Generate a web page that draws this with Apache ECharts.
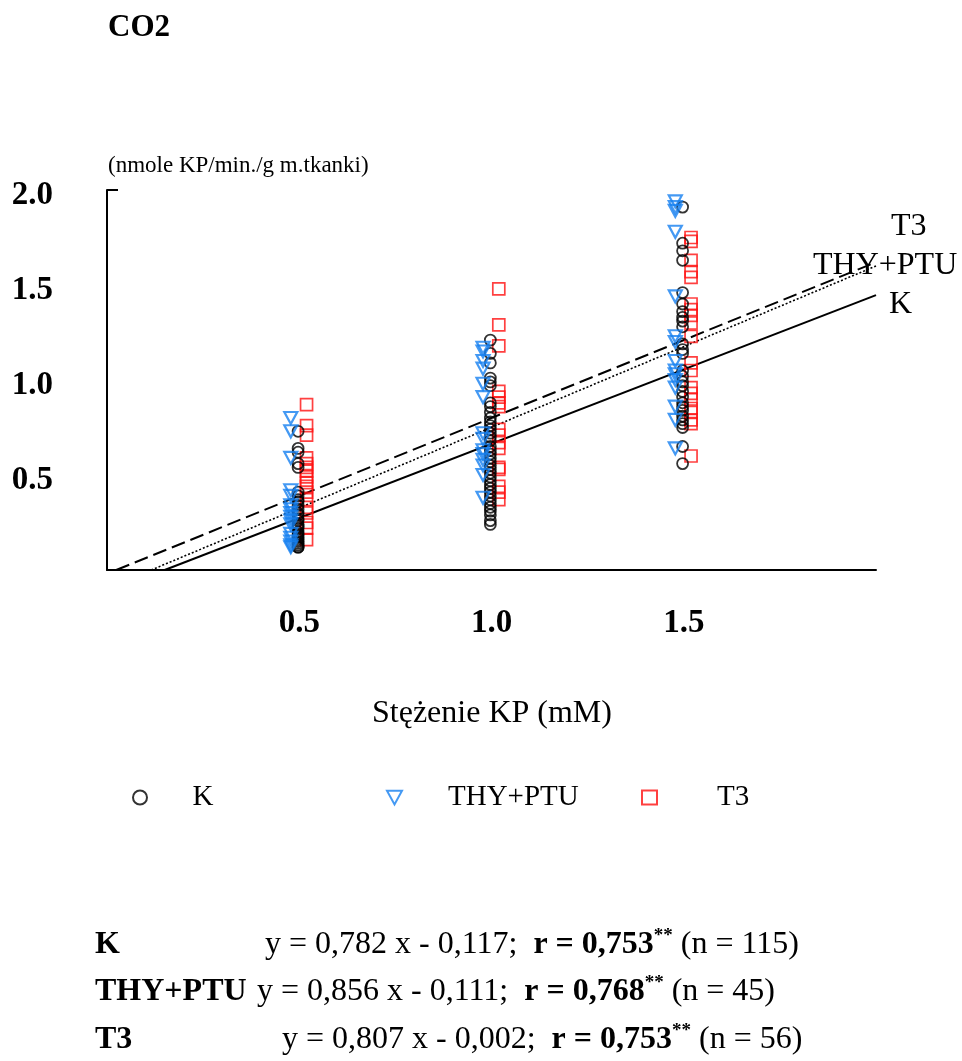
<!DOCTYPE html>
<html>
<head>
<meta charset="utf-8">
<script src="https://cdn.jsdelivr.net/npm/echarts@6/dist/echarts.min.js"></script>
<style>
html,body{margin:0;padding:0;background:#fff;}
#chart{width:962px;height:1061px;}
</style>
</head>
<body>
<div id="chart"></div>
<script>
// ---- Data ----
var groupX = [0.5, 1.0, 1.5];
var xTickLabels = ['0.5', '1.0', '1.5'];
var yTickLabels = ['0.5', '1.0', '1.5', '2.0'];

// K (circles)
var kAt05 = [0.73, 0.64, 0.62, 0.56, 0.54, 0.41, 0.39, 0.37, 0.36, 0.34, 0.32, 0.30, 0.29, 0.27, 0.26, 0.24, 0.23, 0.22, 0.20, 0.19, 0.18, 0.17, 0.16, 0.15, 0.14, 0.13, 0.12, 0.12];
var kAt10 = [1.21, 1.14, 1.09, 1.01, 0.99, 0.97, 0.88, 0.86, 0.83, 0.80, 0.78, 0.76, 0.74, 0.72, 0.70, 0.68, 0.65, 0.63, 0.61, 0.59, 0.57, 0.55, 0.53, 0.51, 0.49, 0.47, 0.45, 0.43, 0.41, 0.39, 0.37, 0.35, 0.33, 0.31, 0.29, 0.26, 0.24];
var kAt15 = [1.91, 1.72, 1.68, 1.63, 1.46, 1.40, 1.36, 1.33, 1.31, 1.28, 1.19, 1.16, 1.14, 1.05, 1.02, 0.99, 0.97, 0.94, 0.91, 0.88, 0.86, 0.84, 0.81, 0.79, 0.77, 0.75, 0.65, 0.56];

// THY+PTU (down triangles)
var thyAt05 = [0.80, 0.73, 0.59, 0.42, 0.39, 0.34, 0.32, 0.30, 0.28, 0.26, 0.24, 0.19, 0.17, 0.15, 0.13, 0.12];
var thyAt10 = [1.17, 1.15, 1.10, 1.06, 0.98, 0.91, 0.72, 0.69, 0.63, 0.61, 0.58, 0.55, 0.50, 0.38];
var thyAt15 = [1.94, 1.91, 1.89, 1.78, 1.44, 1.23, 1.20, 1.10, 1.05, 1.03, 1.00, 0.96, 0.86, 0.79, 0.64];

// T3 (squares)
var t3At05 = [0.87, 0.76, 0.71, 0.59, 0.56, 0.54, 0.52, 0.49, 0.46, 0.44, 0.41, 0.37, 0.33, 0.30, 0.25, 0.22, 0.16];
var t3At10 = [1.48, 1.29, 1.18, 0.94, 0.91, 0.88, 0.86, 0.74, 0.71, 0.67, 0.64, 0.54, 0.53, 0.44, 0.41, 0.37];
var t3At15 = [1.75, 1.73, 1.63, 1.57, 1.54, 1.40, 1.37, 1.34, 1.30, 1.23, 1.09, 1.05, 0.96, 0.93, 0.90, 0.85, 0.83, 0.79, 0.77, 0.60];

// Regression lines: endpoints [x, y]
var kLine = [[0.15, 0.0], [2.0, 1.447]];
var thyLine = [[0.115, 0.0], [2.0, 1.60]];
var t3Line = [[0.024, 0.0], [2.0, 1.62]];

var eqLabels = ['K', 'THY+PTU', 'T3'];
var eqTexts = ['y = 0,782 x - 0,117;', 'y = 0,856 x - 0,111;', 'y = 0,807 x - 0,002;'];
var rTexts = ['r = 0,753', 'r = 0,768', 'r = 0,753'];
var nTexts = ['(n = 115)', '(n = 45)', '(n = 56)'];

// ---- Build ----
function pts(groups, offset) {
  var out = [];
  groups.forEach(function (vals, gi) {
    vals.forEach(function (v) { out.push([groupX[gi] + offset, v]); });
  });
  return out;
}
var FONT = '"Liberation Serif", "Times New Roman", serif';
var triPath = 'path://M0,0 L12,0 L6,11 Z';

var chart = echarts.init(document.getElementById('chart'), null, {renderer: 'canvas'});
var option = {
  backgroundColor: '#fff',
  animation: false,
  grid: {left: 107, right: 86, top: 190, bottom: 491, containLabel: false},
  xAxis: {
    type: 'value', min: 0, max: 2, interval: 0.5,
    axisLine: {show: true, onZero: false, lineStyle: {color: '#000', width: 2}},
    axisTick: {show: false},
    splitLine: {show: false},
    axisLabel: {
      margin: 37, fontFamily: FONT, fontWeight: 'bold', fontSize: 33, color: '#000',
      formatter: function (v) { var s = v.toFixed(1); return xTickLabels.indexOf(s) >= 0 ? s : ''; }
    }
  },
  yAxis: {
    type: 'value', min: 0, max: 2, interval: 0.5,
    axisLine: {show: true, onZero: false, lineStyle: {color: '#000', width: 2}},
    axisTick: {show: false},
    splitLine: {show: false},
    axisLabel: {
      margin: 54, color: '#000',
      formatter: function (v) { var s = v.toFixed(1); return yTickLabels.indexOf(s) >= 0 ? '{a|' + s + '}' : ''; },
      rich: {a: {fontFamily: FONT, fontWeight: 'bold', fontSize: 33, color: '#000', padding: [10, 0, 0, 0]}}
    }
  },
  legend: [
    {data: ['K'], left: 127, top: 778, itemWidth: 15, itemHeight: 14, itemGap: 0,
     textStyle: {fontFamily: FONT, fontSize: 29, color: '#000', padding: [0, 0, 0, 40]}},
    {data: ['THY+PTU'], left: 381, top: 778, itemWidth: 15, itemHeight: 14,
     textStyle: {fontFamily: FONT, fontSize: 29, color: '#000', padding: [0, 0, 0, 41]}},
    {data: ['T3'], left: 636, top: 778, itemWidth: 15, itemHeight: 14,
     textStyle: {fontFamily: FONT, fontSize: 29, color: '#000', padding: [0, 0, 0, 55]}}
  ],
  series: [
    {name: 'K-line', type: 'line', data: kLine, symbol: 'none', silent: true,
     lineStyle: {color: '#000', width: 2, type: 'solid'}, z: 1},
    {name: 'THY-line', type: 'line', data: thyLine, symbol: 'none', silent: true,
     lineStyle: {color: '#000', width: 1.6, type: [2, 2]}, z: 1},
    {name: 'T3-line', type: 'line', data: t3Line, symbol: 'none', silent: true,
     lineStyle: {color: '#000', width: 2, type: [14, 6]}, z: 1},
    {name: 'T3', type: 'scatter', data: pts([t3At05, t3At10, t3At15], 0.019),
     symbol: 'rect', symbolSize: 12,
     itemStyle: {color: 'transparent', borderColor: '#FF1010', borderWidth: 1.7}, z: 2},
    {name: 'K', type: 'scatter', data: pts([kAt05, kAt10, kAt15], -0.003),
     symbol: 'circle', symbolSize: 11,
     itemStyle: {color: 'transparent', borderColor: '#000', borderWidth: 1.8}, z: 3},
    {name: 'THY+PTU', type: 'scatter', data: pts([thyAt05, thyAt10, thyAt15], -0.022),
     symbol: triPath, symbolSize: [13, 12],
     itemStyle: {color: 'transparent', borderColor: '#1580F0', borderWidth: 2.2}, z: 4}
  ]
};
chart.setOption(option);

// Axis cap at top of y axis, placed through the axis scale
var capStart = chart.convertToPixel({gridIndex: 0}, [0, 2]);
var g = [];
g.push({type: 'line', shape: {x1: capStart[0], y1: capStart[1], x2: capStart[0] + 11, y2: capStart[1]},
        style: {stroke: '#000', lineWidth: 2}});
g.push({type: 'text', left: 108, top: 12, style: {text: 'CO2', font: 'bold 31px ' + FONT, fill: '#000'}});
g.push({type: 'text', left: 108, top: 154, style: {text: '(nmole KP/min./g m.tkanki)', font: '23px ' + FONT, fill: '#000'}});
g.push({type: 'text', left: 372, top: 698, style: {text: 'Stężenie KP (mM)', font: '32px ' + FONT, fill: '#000'}});
// Line labels
g.push({type: 'text', left: 891, top: 211, style: {text: 'T3', font: '32px ' + FONT, fill: '#000'}});
g.push({type: 'text', left: 813, top: 250, style: {text: 'THY+PTU', font: '32px ' + FONT, fill: '#000'}});
g.push({type: 'text', left: 889, top: 289, style: {text: 'K', font: '32px ' + FONT, fill: '#000'}});
// Equations
var rowTops = [927, 974, 1022];
var eqLefts = [265, 257, 282];
var LH = 36;
for (var i = 0; i < 3; i++) {
  g.push({type: 'text', left: 95, top: rowTops[i] + 2,
          style: {text: '{b|' + eqLabels[i] + '}',
                  rich: {b: {fontFamily: FONT, fontSize: 32, fontWeight: 'bold', color: '#000', lineHeight: LH}}}});
  g.push({type: 'text', left: eqLefts[i], top: rowTops[i],
          style: {
            text: '{n|' + eqTexts[i] + '  }{b|' + rTexts[i] + '}{s|**}{n| ' + nTexts[i] + '}',
            rich: {
              n: {fontFamily: FONT, fontSize: 32, color: '#000', lineHeight: LH},
              b: {fontFamily: FONT, fontSize: 32, fontWeight: 'bold', color: '#000', lineHeight: LH},
              s: {fontFamily: FONT, fontSize: 19, fontWeight: 'bold', color: '#000', lineHeight: LH,
                  verticalAlign: 'top', padding: [0, 0, 14, 0]}
            }
          }});
}
chart.setOption({graphic: g});
</script>
</body>
</html>
